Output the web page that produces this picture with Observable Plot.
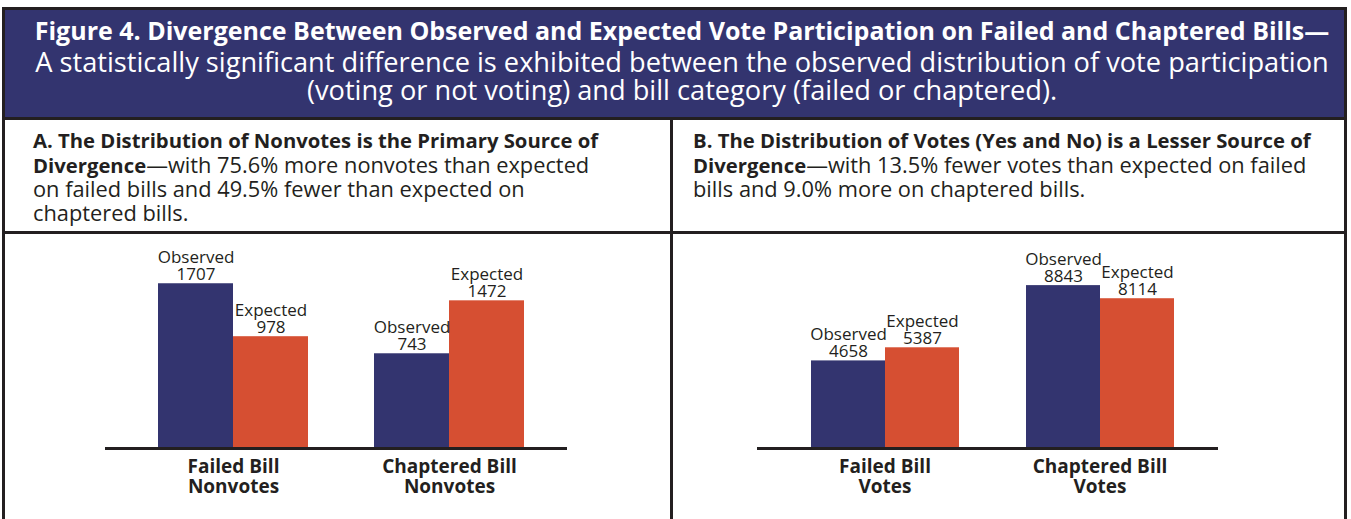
<!DOCTYPE html>
<html>
<head>
<meta charset="utf-8">
<script src="https://cdn.jsdelivr.net/npm/d3@7"></script>
<script src="https://cdn.jsdelivr.net/npm/@observablehq/plot@0.6"></script>
<style>
  html, body { margin: 0; padding: 0; background: #fff; width: 1351px; height: 519px; overflow: hidden; }
  body { font-family: "Open Sans", sans-serif; color: #231f20; position: relative; }
  .abs { position: absolute; }
  #frame { left: 2px; top: 7px; width: 1345px; height: 530px; border: 3px solid #231f20; box-sizing: border-box; }
  #header { left: 5px; top: 10px; width: 1339px; height: 107px; background: #33346f; color: #fff; }
  .hline { position: absolute; left: 15px; right: 0; text-align: center; white-space: nowrap; }
  .rule { position: absolute; background: #231f20; }
  .ptext { position: absolute; white-space: nowrap; font-size: 21.8px; line-height: 23.7px; color: #231f20; }
  .ptext b { font-weight: 700; font-size: 20.3px; }
  .chart { position: absolute; width: 673px; height: 285px; }
  .chart svg { position: absolute; left: 0; top: 0; }
</style>
</head>
<body>
<div id="frame" class="abs"></div>
<div id="header" class="abs">
  <div class="hline" id="t1" style="top:3px; font-size:25px; font-weight:700; line-height:34px;"></div>
  <div class="hline" id="t2" style="top:36px; font-size:27.2px; line-height:32px;"></div>
  <div class="hline" id="t3" style="top:64px; font-size:27.2px; line-height:32px;"></div>
</div>
<div class="rule" style="left:5px; top:117px; width:1339px; height:3px;"></div>
<div class="rule" style="left:670px; top:117px; width:3px; height:410px;"></div>
<div class="rule" style="left:5px; top:231px; width:1339px; height:3px;"></div>
<div class="ptext" id="pa" style="left:33px; top:128px;"></div>
<div class="ptext" id="pb" style="left:693px; top:128px;"></div>
<div id="chartA" class="chart" style="left:0px; top:234px;"></div>
<div id="chartB" class="chart" style="left:673px; top:234px;"></div>
<script>
// ---- Text ----
const titleLines = [
  "Figure 4. Divergence Between Observed and Expected Vote Participation on Failed and Chaptered Bills\u2014",
  "A statistically significant difference is exhibited between the observed distribution of vote participation",
  "(voting or not voting) and bill category (failed or chaptered)."
];
const panelATitle = ["A. The Distribution of Nonvotes is the Primary Source of", "Divergence"];
const panelABody = ["\u2014with 75.6% more nonvotes than expected", "on failed bills and 49.5% fewer than expected on", "chaptered bills."];
const panelBTitle = ["B. The Distribution of Votes (Yes and No) is a Lesser Source of", "Divergence"];
const panelBBody = ["\u2014with 13.5% fewer votes than expected on failed", "bills and 9.0% more on chaptered bills."];

// ---- Data ----
const seriesNames = ["Observed", "Expected"];
const seriesColors = ["#33346f", "#d64f32"];
const categoriesA = ["Failed Bill\nNonvotes", "Chaptered Bill\nNonvotes"];
const observedA = [1707, 743];
const expectedA = [978, 1472];
const categoriesB = ["Failed Bill\nVotes", "Chaptered Bill\nVotes"];
const observedB = [4658, 8843];
const expectedB = [5387, 8114];

document.getElementById("t1").textContent = titleLines[0];
document.getElementById("t2").textContent = titleLines[1];
document.getElementById("t3").textContent = titleLines[2];

function esc(s) { return s.replace(/&/g, "&amp;").replace(/</g, "&lt;"); }
function panelHTML(title, body) {
  const lines = [];
  lines.push(`<b>${esc(title[0])}</b>`);
  lines.push(`<b>${esc(title[1])}</b>${esc(body[0])}`);
  for (let i = 1; i < body.length; i++) lines.push(esc(body[i]));
  return lines.join("<br>");
}
document.getElementById("pa").innerHTML = panelHTML(panelATitle, panelABody);
document.getElementById("pb").innerHTML = panelHTML(panelBTitle, panelBBody);

function chart(container, {categories, observed, expected, yDomain, width, marginLeft, marginRight}) {
  const rows = categories.flatMap((c, i) => [
    {category: c, series: seriesNames[0], value: observed[i]},
    {category: c, series: seriesNames[1], value: expected[i]}
  ]);
  const floor = yDomain[0];
  const common = {
    width, height: 285,
    marginTop: 0, marginBottom: 71, marginLeft, marginRight,
    style: {fontFamily: "'Open Sans', sans-serif", background: "transparent", color: "#231f20", overflow: "visible"},
    y: {domain: yDomain, axis: null}
  };
  // grouped bars, faceted by bill category
  const bars = Plot.plot({
    ...common,
    fx: {domain: categories, paddingInner: 0.3056, paddingOuter: 0.2222, align: 0.552, axis: null},
    x: {domain: seriesNames, padding: 0, axis: null},
    color: {domain: seriesNames, range: seriesColors},
    marks: [
      Plot.barY(rows, {fx: "category", x: "series", y1: floor, y2: "value", fill: "series"}),
      Plot.text(rows, {fx: "category", x: "series", y: "value", text: d => `${d.series}\n${d.value}`,
        lineAnchor: "bottom", lineHeight: 0.98, dy: -4, fontSize: 17, fill: "#231f20"}),
      Plot.text(categories, {fx: d => d, text: d => d, frameAnchor: "bottom", lineAnchor: "top",
        dy: 10.5, fontSize: 19, fontWeight: "bold", lineHeight: 1.05, fill: "#231f20"})
    ]
  });
  // baseline spanning the whole plot frame, on the same y scale
  const baseline = Plot.plot({
    ...common,
    x: {axis: null},
    marks: [Plot.ruleY([floor], {stroke: "#231f20", strokeWidth: 3})]
  });
  container.append(bars, baseline);
}

chart(document.getElementById("chartA"), {
  categories: categoriesA, observed: observedA, expected: expectedA,
  yDomain: [-561, 2385], width: 671, marginLeft: 105, marginRight: 104
});
chart(document.getElementById("chartB"), {
  categories: categoriesB, observed: observedB, expected: expectedB,
  yDomain: [-211, 11684], width: 673, marginLeft: 84, marginRight: 128
});
</script>
</body>
</html>
